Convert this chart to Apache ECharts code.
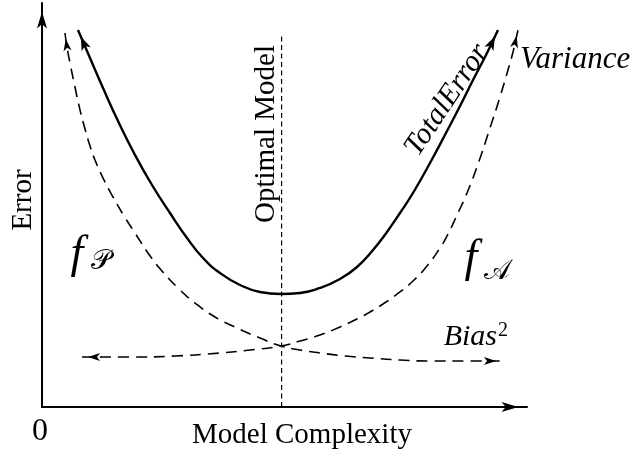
<!DOCTYPE html>
<html>
<head>
<meta charset="utf-8">
<script src="https://cdn.jsdelivr.net/npm/echarts@6/dist/echarts.min.js"></script>
<style>
html, body { margin: 0; padding: 0; background: #fff; }
#main { width: 636px; height: 453px; }
</style>
</head>
<body>
<div id="main"></div>
<script>
// 总误差 (实线)
var totalX = [7.42, 9.90, 12.58, 15.67, 19.18, 22.68, 26.39, 29.90, 33.20, 36.70, 40.82, 44.95, 49.28, 53.20, 57.32, 61.44, 64.95, 68.25, 71.13, 73.81, 76.49, 80.00, 83.51, 86.19, 88.87, 91.55, 94.02];
var totalY = [93.32, 86.39, 78.96, 70.79, 62.38, 54.95, 48.02, 41.83, 36.88, 33.17, 30.20, 28.47, 27.97, 28.22, 29.46, 31.68, 34.65, 38.86, 43.32, 48.02, 52.97, 60.40, 68.32, 74.50, 80.94, 87.13, 93.32];
// Bias^2 (虚线, 下降)
var biasX = [4.74, 5.15, 5.77, 6.80, 7.84, 8.87, 9.90, 10.93, 12.78, 14.64, 16.91, 19.18, 21.86, 24.74, 28.04, 31.55, 35.67, 40.21, 44.95, 49.28, 53.20, 57.32, 62.47, 67.63, 73.81, 80.00, 87.22, 94.85];
var biasY = [92.57, 89.11, 85.15, 79.21, 73.51, 68.81, 64.60, 61.14, 56.19, 51.98, 47.28, 43.07, 38.12, 33.66, 29.46, 25.74, 22.28, 19.55, 17.08, 15.10, 14.11, 13.37, 12.62, 12.13, 11.63, 11.39, 11.39, 11.39];
// Variance (虚线, 上升)
var varX = [8.25, 18.14, 27.42, 36.70, 42.89, 49.28, 53.20, 57.32, 61.44, 64.95, 67.63, 70.31, 73.81, 76.49, 79.38, 82.06, 83.51, 85.57, 87.63, 89.90, 92.37, 94.43, 96.08, 97.11, 98.14];
var varY = [12.38, 12.38, 12.62, 13.37, 14.11, 15.10, 16.34, 17.82, 19.80, 21.78, 23.51, 25.50, 28.47, 31.19, 34.90, 39.36, 42.33, 47.52, 52.97, 60.15, 69.06, 76.73, 83.42, 87.87, 93.32];
// 最优模型竖线
var optimalX = 49.4;
var optimalTop = 92.6;

var serif = '"Liberation Serif", "DejaVu Serif", serif';

function pairs(xs, ys) {
    return xs.map(function (x, i) { return [x, ys[i]]; });
}

var myChart = echarts.init(document.getElementById('main'));

var axisStyle = {
    type: 'value', min: 0, max: 100,
    axisLine: {
        show: true, onZero: false,
        lineStyle: { color: '#000', width: 2 },
        symbol: ['none', 'arrow'], symbolSize: [7.5, 17], symbolOffset: [0, -8.5]
    },
    axisTick: { show: false }, axisLabel: { show: false }, splitLine: { show: false }
};

var option = {
    animation: false,
    backgroundColor: '#fff',
    grid: { left: 42, right: 109, top: 3, bottom: 46 },
    xAxis: axisStyle,
    yAxis: axisStyle,
    series: [
        {
            name: 'total', type: 'line', smooth: 0.5, symbol: 'none', silent: true,
            lineStyle: { color: '#000', width: 2.4 },
            itemStyle: { color: '#000' },
            data: pairs(totalX, totalY)
        },
        {
            name: 'bias', type: 'line', smooth: 0.5, symbol: 'none', silent: true,
            lineStyle: { color: '#000', width: 1.6, type: [11, 7] },
            itemStyle: { color: '#000' },
            data: pairs(biasX, biasY)
        },
        {
            name: 'variance', type: 'line', smooth: 0.5, symbol: 'none', silent: true,
            lineStyle: { color: '#000', width: 1.6, type: [11, 7] },
            itemStyle: { color: '#000' },
            data: pairs(varX, varY)
        },
        {
            name: 'optimal', type: 'line', symbol: 'none', silent: true,
            lineStyle: { color: '#000', width: 1.2, type: [5, 3.5] },
            data: [[optimalX, 0], [optimalX, optimalTop]]
        }
    ],
    graphic: [
        { type: 'text', x: 40, y: 432, style: { text: '0', font: '32px ' + serif, fill: '#000', align: 'center', verticalAlign: 'middle' } },
        { type: 'text', x: 302, y: 435, style: { text: 'Model Complexity', font: '29px ' + serif, fill: '#000', align: 'center', verticalAlign: 'middle' } },
        { type: 'text', x: 23, y: 200, rotation: Math.PI / 2, style: { text: 'Error', font: '29px ' + serif, fill: '#000', align: 'center', verticalAlign: 'middle' } },
        { type: 'text', x: 266, y: 134, rotation: Math.PI / 2, style: { text: 'Optimal Model', font: '29px ' + serif, fill: '#000', align: 'center', verticalAlign: 'middle' } },
        { type: 'text', x: 447, y: 100, rotation: 56.3 * Math.PI / 180, style: { text: 'TotalError', font: 'italic 30px ' + serif, fill: '#000', align: 'center', verticalAlign: 'middle' } },
        { type: 'text', x: 520, y: 60, style: { text: 'Variance', font: 'italic 31px ' + serif, fill: '#000', align: 'left', verticalAlign: 'middle' } },
        { type: 'text', x: 497, y: 337, style: { text: 'Bias', font: 'italic 30px ' + serif, fill: '#000', align: 'right', verticalAlign: 'middle' } },
        { type: 'text', x: 498, y: 331, style: { text: '2', font: '20px ' + serif, fill: '#000', align: 'left', verticalAlign: 'middle' } },
        { type: 'text', x: 77, y: 255, style: { text: 'f', font: 'italic 46px ' + serif, fill: '#000', align: 'center', verticalAlign: 'middle' } },
        { type: 'text', x: 101, y: 262, style: { text: '𝒫', font: '28px ' + serif, fill: '#000', align: 'center', verticalAlign: 'middle' } },
        { type: 'text', x: 471, y: 259, style: { text: 'f', font: 'italic 46px ' + serif, fill: '#000', align: 'center', verticalAlign: 'middle' } },
        { type: 'text', x: 497, y: 272, style: { text: '𝒜', font: '28px ' + serif, fill: '#000', align: 'center', verticalAlign: 'middle' } }
    ]
};
myChart.setOption(option);

// 曲线两端加箭头
function withArrows(pts, w, h) {
    var px = pts.map(function (p) { return myChart.convertToPixel({ gridIndex: 0 }, p); });
    var n = pts.length;
    function arrow(i, j) {
        var dx = px[i][0] - px[j][0], dy = px[i][1] - px[j][1];
        var len = Math.sqrt(dx * dx + dy * dy);
        return {
            value: pts[i], symbol: 'arrow', symbolSize: [w, h],
            symbolRotate: Math.atan2(-dy, dx) * 180 / Math.PI - 90,
            symbolOffset: [-dx / len * h / 2, -dy / len * h / 2]
        };
    }
    var data = pts.slice();
    data[0] = arrow(0, 1);
    data[n - 1] = arrow(n - 1, n - 2);
    return data;
}

myChart.setOption({
    series: [
        { name: 'total', data: withArrows(pairs(totalX, totalY), 7.5, 14) },
        { name: 'bias', data: withArrows(pairs(biasX, biasY), 6, 12) },
        { name: 'variance', data: withArrows(pairs(varX, varY), 6, 12) }
    ]
});
</script>
</body>
</html>
